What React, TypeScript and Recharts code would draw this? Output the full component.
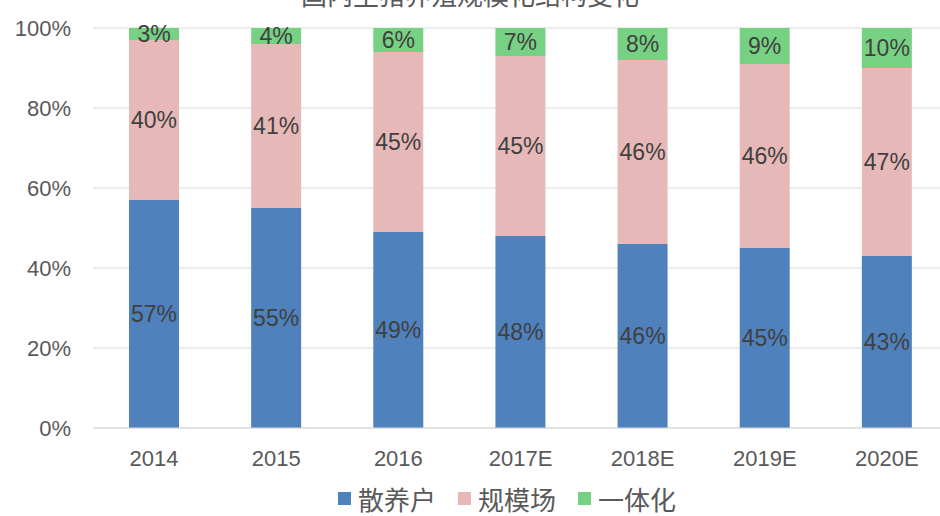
import { BarChart, Bar, XAxis, YAxis, CartesianGrid, LabelList, Legend } from 'recharts';

const years = ['2014', '2015', '2016', '2017E', '2018E', '2019E', '2020E'];
const sanyang = [57, 55, 49, 48, 46, 45, 43];
const guimo = [40, 41, 45, 45, 46, 46, 47];
const yiti = [3, 4, 6, 7, 8, 9, 10];
const yTicks = [0, 20, 40, 60, 80, 100];

const seriesNames = ['散养户', '规模场', '一体化'];
const colors = ['#4F81BD', '#E6B9B8', '#77D183'];

const data = years.map((year, i) => ({
  year,
  a: sanyang[i],
  b: guimo[i],
  c: yiti[i],
}));

const font = '"Liberation Sans", Arial, "Noto Sans CJK SC", sans-serif';

const LegendContent = () => (
  <div style={{ display: 'flex', justifyContent: 'center', gap: 22, paddingLeft: 66, fontFamily: font, fontSize: 26, color: '#595959' }}>
    {seriesNames.map((n, i) => (
      <div key={n} style={{ display: 'flex', alignItems: 'center' }}>
        <span style={{ width: 13, height: 13, background: colors[i], marginRight: 7, display: 'inline-block' }} />
        <span>{n}</span>
      </div>
    ))}
  </div>
);

const App = () => {
  return (
    <div style={{ position: 'absolute', left: 0, top: 0, width: 940, height: 516, overflow: 'hidden', background: '#fff' }}>
      <div style={{ position: 'absolute', top: -19, left: 0, width: 940, textAlign: 'center', fontFamily: font, fontSize: 26, color: '#595959', lineHeight: '30px' }}>
        国内生猪养殖规模化结构变化
      </div>
      <BarChart
        width={960}
        height={516}
        data={data}
        margin={{ top: 28, right: 12, left: 0, bottom: 4 }}
        barSize={50}
      >
        <CartesianGrid vertical={false} stroke="#d9d9d9" />
        <XAxis
          dataKey="year"
          tickLine={false}
          axisLine={{ stroke: '#d9d9d9' }}
          tick={{ fill: '#595959', fontSize: 22, fontFamily: font }}
          tickMargin={16}
          height={52}
        />
        <YAxis
          domain={[0, 100]}
          ticks={yTicks}
          tickFormatter={(v: number) => `${v}%`}
          axisLine={false}
          tickLine={false}
          tickSize={0}
          tickMargin={22}
          width={93}
          tick={{ fill: '#595959', fontSize: 22, fontFamily: font }}
        />
        <Legend verticalAlign="bottom" height={32} content={<LegendContent />} />
        {(['a', 'b', 'c'] as const).map((k, i) => (
          <Bar key={k} dataKey={k} name={seriesNames[i]} stackId="s" fill={colors[i]} isAnimationActive={false}>
            <LabelList
              dataKey={k}
              position="center"
              formatter={(v: number) => `${v}%`}
              style={{ fill: '#404040', fontSize: 23, fontFamily: font }}
            />
          </Bar>
        ))}
      </BarChart>
    </div>
  );
};

export default App;
